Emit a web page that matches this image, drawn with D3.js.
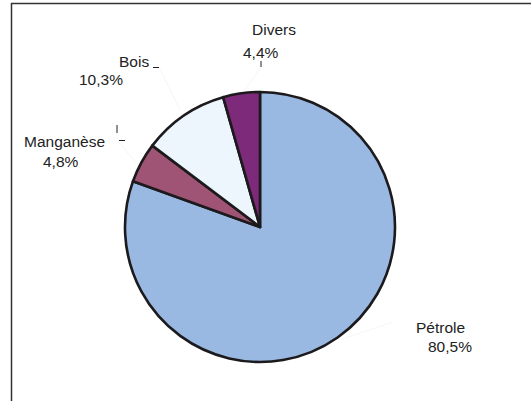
<!DOCTYPE html>
<html>
<head>
<meta charset="utf-8">
<script src="https://cdn.jsdelivr.net/npm/d3@7"></script>
<style>
  body { margin: 0; background: #fff; }
  text { font-family: "Liberation Sans", Arial, sans-serif; font-size: 15.5px; fill: #222; }
</style>
</head>
<body>
<script>
var categories = ["Pétrole", "Manganèse", "Bois", "Divers"];
var values = [80.5, 4.8, 10.3, 4.4];
var valueLabels = ["80,5%", "4,8%", "10,3%", "4,4%"];
var colors = ["#99b9e2", "#a05475", "#eef6fd", "#7c2a79"];

var width = 531, height = 401;
var cx = 260, cy = 227, radius = 135;

var svg = d3.select("body")
   .append("svg")
   .attr("width", width)
   .attr("height", height);

// frame (only top and left edges show)
svg.append("line")
   .attr("x1", 11).attr("y1", 3.5).attr("x2", width).attr("y2", 3.5)
   .style("stroke", "#333").style("stroke-width", 1.5);
svg.append("line")
   .attr("x1", 11.5).attr("y1", 3).attr("x2", 11.5).attr("y2", height)
   .style("stroke", "#333").style("stroke-width", 1.5);

var pie = d3.pie().sort(null).value(function(d) { return d; });
var arc = d3.arc().innerRadius(0).outerRadius(radius);

var g = svg.append("g")
   .attr("transform", "translate(" + cx + "," + cy + ")");

var arcs = pie(values);

// label placement: [name x, name y, value x, value y]
var labelPos = [
   [416, 333, 428, 352],
   [24, 147, 43, 167],
   [119, 67, 79, 85],
   [252, 35, 243, 58]
];
// faint leader lines [x1,y1,x2,y2] in page coords
var leaders = [
   [393, 322, 345, 338],
   [118, 141, 136, 163],
   [159, 67, 180, 110],
   [260, 68, 244, 91]
];

svg.selectAll(".leader")
   .data(leaders)
   .enter()
   .append("line")
   .attr("class", "leader")
   .attr("x1", function(d) { return d[0]; })
   .attr("y1", function(d) { return d[1]; })
   .attr("x2", function(d) { return d[2]; })
   .attr("y2", function(d) { return d[3]; })
   .style("stroke", "#f6f6f6")
   .style("stroke-width", 1);

g.selectAll("path")
   .data(arcs)
   .enter()
   .append("path")
   .attr("d", arc)
   .style("fill", function(d, i) { return colors[i]; })
   .style("stroke", "#1c1a1c")
   .style("stroke-width", 2.6)
   .style("stroke-linejoin", "round");

// little tick marks next to labels
var ticks = [
   [261, 61, 261, 67],
   [117, 125, 117, 133],
   [119, 140.5, 125, 140.5],
   [153, 67.5, 159, 67.5]
];
svg.selectAll(".tick")
   .data(ticks)
   .enter()
   .append("line")
   .attr("class", "tick")
   .attr("x1", function(d) { return d[0]; })
   .attr("y1", function(d) { return d[1]; })
   .attr("x2", function(d) { return d[2]; })
   .attr("y2", function(d) { return d[3]; })
   .style("stroke", "#222")
   .style("stroke-width", 1);

svg.selectAll(".name")
   .data(categories)
   .enter()
   .append("text")
   .attr("class", "name")
   .attr("x", function(d, i) { return labelPos[i][0]; })
   .attr("y", function(d, i) { return labelPos[i][1]; })
   .text(function(d) { return d; });

svg.selectAll(".val")
   .data(valueLabels)
   .enter()
   .append("text")
   .attr("class", "val")
   .attr("x", function(d, i) { return labelPos[i][2]; })
   .attr("y", function(d, i) { return labelPos[i][3]; })
   .text(function(d) { return d; });
</script>
</body>
</html>
